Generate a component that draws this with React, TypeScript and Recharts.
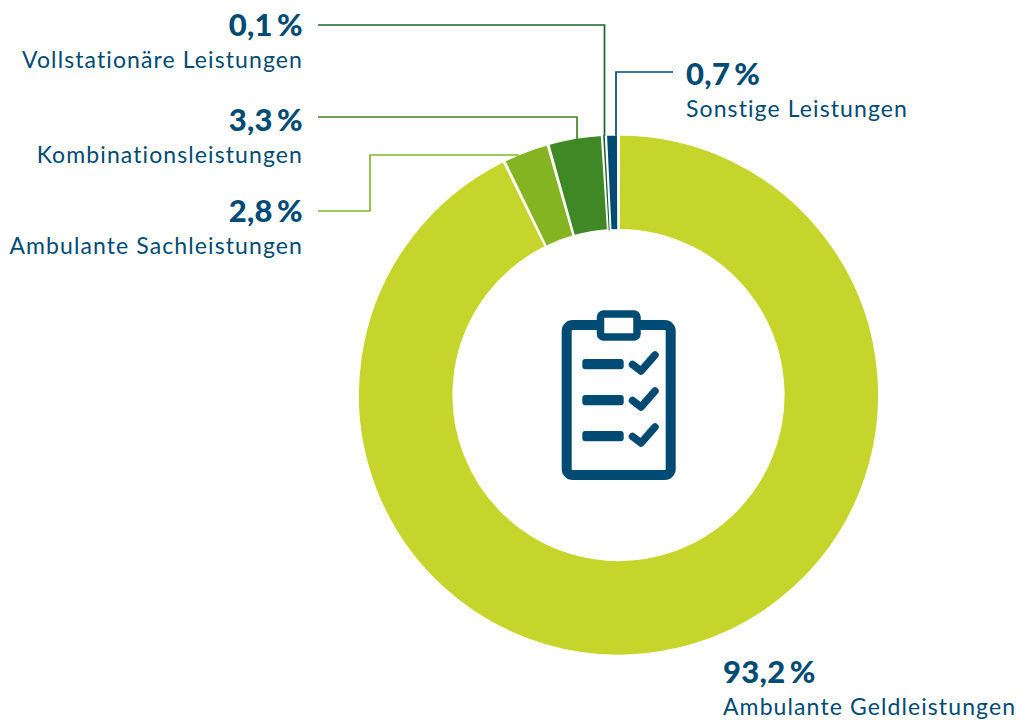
import React from 'react';
import { PieChart, Pie, Cell } from 'recharts';

const categories = [
    'Ambulante Geldleistungen',
    'Ambulante Sachleistungen',
    'Kombinationsleistungen',
    'Vollstationäre Leistungen',
    'Sonstige Leistungen',
];
const shares = [93.2, 2.8, 3.3, 0.1, 0.7];
const sliceColors = ['#c6d52b', '#85b422', '#408826', '#1c6530', '#004b74'];
const lineColors = ['none', '#85b52f', '#408826', '#1c6530', '#004b74'];

const data = categories.map((name, i) => ({ name, value: shares[i] }));

// where the text sits and how each leader line runs to the ring
const labelLayout = [
    { x: 723, y: 683, anchor: 'start', line: null },
    { x: 303, y: 222, anchor: 'end', line: { from: [318, 211], via: [[370, 211], [370, 155]], end: 'h' } },
    { x: 303, y: 131, anchor: 'end', line: { from: [318, 117], via: [[577, 117]], end: 'v' } },
    { x: 303, y: 36, anchor: 'end', line: { from: [318, 25], via: [[604.5, 25]], end: 'v' } },
    { x: 686, y: 85, anchor: 'start', line: { from: [673, 72], via: [[616, 72]], end: 'v' } },
];

const NAVY = '#004b74';
const FONT = "Lato, sans-serif";
const formatShare = (v: number) => v.toFixed(1).replace('.', ',') + '\u2009%';

const renderLabel = (props: any) => {
    const { cx, cy, outerRadius, index, value, name } = props;
    const layout = labelLayout[index];
    let path = null;
    if (layout.line) {
        const pts = [layout.line.from, ...layout.line.via];
        const last = pts[pts.length - 1];
        // run on until the line meets the outer edge of the ring
        const tip = layout.line.end === 'v'
            ? [last[0], cy - Math.sqrt(outerRadius ** 2 - (last[0] - cx) ** 2) + 1]
            : [cx - Math.sqrt(outerRadius ** 2 - (last[1] - cy) ** 2) + 1, last[1]];
        const d = [...pts, tip].map((p, i) => `${i ? 'L' : 'M'}${p[0]} ${p[1]}`).join(' ');
        path = <path d={d} fill="none" stroke={lineColors[index]} strokeWidth={1.7} />;
    }
    return (
        <g key={name}>
            {path}
            <text x={layout.x} y={layout.y} textAnchor={layout.anchor} fill={NAVY}
                fontFamily={FONT} fontSize={31} fontWeight={900} letterSpacing={0.3}>
                {formatShare(value)}
            </text>
            <text x={layout.x} y={layout.y + 32} textAnchor={layout.anchor} fill={NAVY}
                fontFamily={FONT} fontSize={23} letterSpacing={1.1}>
                {name}
            </text>
        </g>
    );
};

const ClipboardIcon = () => (
    <g fill="none" stroke={NAVY} strokeLinecap="round" strokeLinejoin="round">
        <rect x={566.7} y={325} width={104} height={150} rx={6} strokeWidth={10} />
        <rect x={600.5} y={314} width={36.5} height={23} rx={3} strokeWidth={7.5} fill="#fff" />
        {[0, 36, 72].map((dy) => (
            <g key={dy} transform={`translate(0 ${dy})`}>
                <rect x={582.3} y={359} width={41.4} height={10.3} rx={3} fill={NAVY} stroke="none" />
                <path d="M632.5 364.5 L641 371 L655 355" strokeWidth={7.5} />
            </g>
        ))}
    </g>
);

export default function App() {
    return (
        <div style={{ position: 'absolute', left: 0, top: 0, width: 1017, height: 720, background: '#fff' }}>
            <PieChart width={1017} height={720} margin={{ top: 0, right: 0, bottom: 0, left: 0 }}>
                <Pie
                    data={data}
                    dataKey="value"
                    nameKey="name"
                    cx={618.5}
                    cy={395}
                    innerRadius={165.3}
                    outerRadius={260.3}
                    startAngle={89.83}
                    endAngle={-270.17}
                    paddingAngle={0.35}
                    stroke="#fff"
                    strokeWidth={1.5}
                    label={renderLabel}
                    labelLine={false}
                    isAnimationActive={false}
                >
                    {data.map((d, i) => (
                        <Cell key={d.name} fill={sliceColors[i]}
                            stroke={i === 3 ? 'none' : '#fff'} />
                    ))}
                </Pie>
                <ClipboardIcon />
            </PieChart>
        </div>
    );
}
